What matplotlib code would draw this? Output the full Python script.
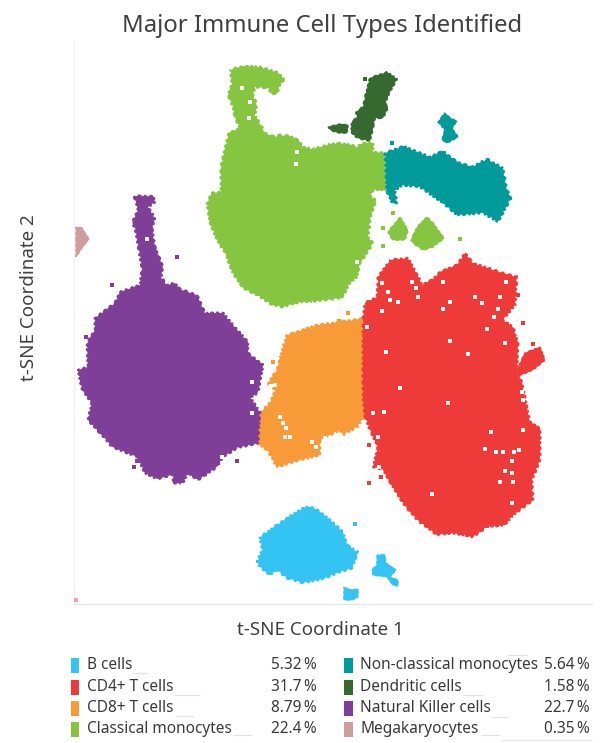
import matplotlib
matplotlib.use("Agg")
import matplotlib.pyplot as plt

plt.rcParams['font.family'] = ['Noto Sans', 'DejaVu Sans']

# -----------------------------------
# Cluster outlines
# -----------------------------------

classical = [(230,70),(243,66),(260,67),(277,72),(284,79),(280,85),(277,94),(271,93),(268,88),(255,87),
             (253,95),(257,105),(255,115),(261,125),(265,133),(275,137),(278,135),(290,136),(298,140),
             (303,147),(313,149),(323,146),(337,143),(347,144),(357,147),(363,143),(373,143),(373,152),
             (385,153),(387,190),(373,190),(370,197),(376,200),(372,213),(370,220),(368,237),(373,243),
             (367,253),(360,263),(357,277),(350,283),(342,298),(317,301),(300,302),(283,307),(272,305),
             (257,295),(243,288),(233,273),(225,253),(217,240),(210,223),(207,203),(212,193),(221,192),
             (221,167),(225,148),(229,133),(240,128),(235,118),(233,107),(228,95),(232,83)]
classical_a = [(388,232),(400,217),(408,230),(405,240),(393,240)]
classical_b = [(411,240),(417,227),(427,217),(433,223),(444,238),(433,247),(423,250),(413,243)]
dendritic = [(370,78),(387,72),(397,79),(390,92),(385,103),(388,108),(383,118),(375,118),(373,128),
             (370,141),(357,138),(351,132),(352,121),(357,118),(356,112),(363,107),(366,93)]
dendritic_a = [(328,127),(340,124),(348,125),(347,133),(340,133),(332,131)]
non_classical = [(385,153),(403,146),(413,150),(430,157),(443,151),(457,162),(472,167),(487,159),(503,168),
                 (507,190),(511,198),(498,222),(483,213),(457,215),(443,203),(420,187),(403,185),(395,190),
                 (397,203),(392,203),(387,192)]
non_classical_a = [(445,113),(450,118),(457,121),(452,128),(458,137),(447,143),(442,140),(445,130),(438,122)]
nk = [(134,196),(153,196),(155,202),(148,207),(155,218),(152,228),(155,247),(163,267),(161,277),(167,285),
      (175,283),(180,289),(197,295),(205,313),(223,313),(240,333),(248,342),(248,353),(263,365),(258,393),
      (250,397),(260,412),(258,443),(237,448),(223,457),(217,467),(198,480),(188,473),(183,483),(173,483),
      (173,475),(157,479),(145,473),(137,457),(112,447),(100,433),(88,420),(92,403),(82,390),(78,370),
      (88,367),(87,343),(95,330),(95,318),(115,303),(120,292),(140,285),(142,268),(135,228),(132,223),(138,210)]
mega = [(76,227),(82,228),(89,239),(82,248),(76,257)]
cd8 = [(287,335),(317,325),(333,323),(365,318),(366,413),(357,427),(343,435),(340,430),(320,440),(320,455),
       (300,460),(277,467),(267,450),(257,443),(260,413),(270,403),(275,390),(268,383),(277,370),(283,347)]
cd4 = [(390,260),(408,258),(420,280),(422,285),(432,280),(440,272),(457,265),(465,253),(473,263),(488,268),
       (503,273),(517,277),(515,305),(503,320),(513,327),(518,343),(517,370),(522,383),(527,407),(530,422),
       (540,428),(540,460),(532,480),(533,500),(513,515),(505,525),(487,527),(473,537),(453,533),(437,535),
       (417,520),(403,503),(390,482),(383,470),(373,467),(378,447),(370,430),(365,417),(363,397),(363,320),
       (365,303),(377,297),(378,277)]
cd4_a = [(525,353),(540,347),(545,360),(533,370),(520,375),(517,370)]
b_cells = [(307,506),(318,510),(330,520),(343,532),(347,545),(358,552),(352,568),(337,573),(323,579),(303,583),
           (287,578),(277,570),(270,575),(260,567),(257,562),(262,550),(260,537),(277,525),(287,518)]
b_cells_a = [(377,555),(385,555),(386,563),(396,570),(390,577),(398,580),(398,586),(393,585),(387,577),
             (373,575),(372,570),(377,565)]
b_cells_b = [(344,587),(350,590),(358,589),(358,597),(352,600),(344,600)]

# stray points
classical_pts = [(393,213),(383,228),(383,246),(460,239)]
dendritic_pts = [(365,79)]
non_classical_pts = [(392,143)]
nk_pts = [(177,257),(112,285),(86,337),(237,461),(134,467),(137,461)]
cd8_pts = [(348,313),(339,321),(273,362)]
cd4_pts = [(518,295),(523,323),(533,344),(369,483),(381,477),(369,445)]
b_pts = [(355,524)]
mega_pts = [(76,600)]

# white gaps inside the clusters
gaps = [(382,283),(418,297),(475,297),(443,282),(390,300),(398,302),(382,311),(450,302),(443,309),(482,303),
        (500,297),(506,282),(498,309),(494,317),(487,329),(450,341),(505,343),(468,354),(386,352),(400,388),
        (448,403),(384,412),(373,413),(367,327),(522,392),(523,400),(491,432),(523,430),(378,437),(485,449),
        (496,452),(503,452),(514,452),(519,450),(512,461),(505,471),(512,473),(500,482),(513,482),(432,494),
        (512,503),(379,467),(416,288),(412,282),(388,292),
        (297,152),(296,164),(357,262),(242,88),(250,102),(249,118),
        (147,239),(252,382),(252,413),(222,457),
        (280,417),(283,423),(286,428),(285,437),(290,437),(275,385),(271,386),(312,442),(316,447),(325,438)]

# -----------------------------------
# Legend
# -----------------------------------

col1_names = ['B cells', 'CD4+ T cells', 'CD8+ T cells', 'Classical monocytes']
col1_pcts = ['5.32\u2009%', '31.7\u2009%', '8.79\u2009%', '22.4\u2009%']
col1_colors = ['#33c4f3', '#ef3a3a', '#f89a38', '#86c540']
col2_names = ['Non-classical monocytes', 'Dendritic cells', 'Natural Killer cells', 'Megakaryocytes']
col2_pcts = ['5.64\u2009%', '1.58\u2009%', '22.7\u2009%', '0.35\u2009%']
col2_colors = ['#009a9a', '#36692f', '#7f3f98', '#cf9c9c']
row_y = [665, 687, 708, 729]

# faint leftover rules next to the legend text
rule_x0 = [132, 175, 175, 233, 507, 463, 492, 481, 502]
rule_x1 = [148, 200, 194, 252, 527, 483, 509, 500, 592]
rule_y = [673, 695, 716, 735, 655, 695, 717, 735, 740]

fig = plt.figure(figsize=(6.03, 7.43), dpi=100)
ax = fig.add_axes([74/603, (743-604)/743, (592-74)/603, (604-40)/743])
ax.set_xlim(74, 592)
ax.set_ylim(604, 40)
ax.set_xticks([])
ax.set_yticks([])
for s in ['top', 'right']:
    ax.spines[s].set_visible(False)
ax.spines['left'].set_color('#f0f0f0')
ax.spines['bottom'].set_color('#e4e4e4')


def blob(points, color, z=2, scale=1.1):
    xs, ys = zip(*points)
    patch = ax.fill(xs, ys, color=color, lw=0.8, zorder=z)[0]
    patch.set_sketch_params(scale=scale, length=6, randomness=2)


def dots(points, color, size=11, z=3):
    xs, ys = zip(*points)
    ax.scatter(xs, ys, s=size, color=color, marker='s', linewidths=0, zorder=z)


blue, red, orange, green = col1_colors
teal, dark, purple, pink = col2_colors

blob(classical, green)
for o in [classical_a, classical_b]:
    blob(o, green, scale=0.5)
blob(dendritic, dark, scale=0.7)
blob(dendritic_a, dark, scale=0.4)
blob(non_classical, teal, 3)
blob(non_classical_a, teal, 3, scale=0.4)
blob(cd8, orange)
blob(nk, purple, 3)
blob(cd4, red, 3)
blob(cd4_a, red, 3, scale=0.5)
blob(mega, pink, scale=0.3)
blob(b_cells, blue)
blob(b_cells_a, blue, scale=0.3)
blob(b_cells_b, blue, scale=0.3)

dots(classical_pts, green)
dots(dendritic_pts, dark)
dots(non_classical_pts, teal)
dots(nk_pts, purple)
dots(cd8_pts, orange)
dots(cd4_pts, red)
dots(b_pts, blue)
dots(mega_pts, '#f5a58c', size=8)
dots(gaps, 'white', size=5, z=4)

ax.set_title('Major Immune Cell Types Identified', fontsize=17.2, color='#404040', x=0.479, y=1.0, pad=6)
ax.set_xlabel('t-SNE Coordinate 1', fontsize=13.5, color='#404040', labelpad=12, x=0.476)
ax.set_ylabel('t-SNE Coordinate 2', fontsize=13.5, color='#404040', labelpad=26, y=0.5426)

# legend is laid out in picture pixels
leg = fig.add_axes([0, 0, 1, 1])
leg.set_xlim(0, 603)
leg.set_ylim(743, 0)
leg.axis('off')
leg.patch.set_alpha(0)

for names, pcts, colors, x0, right in [(col1_names, col1_pcts, col1_colors, 70.5, 317),
                                       (col2_names, col2_pcts, col2_colors, 344, 590)]:
    for name, pct, c, y in zip(names, pcts, colors, row_y):
        leg.add_patch(plt.Rectangle((x0, y-7.5), 8.5, 15, color=c, lw=0))
        leg.text(x0+16.5, y, name, fontsize=11.1, va='center', color='#3a3a3a')
        leg.text(right, y, pct, fontsize=11.1, va='center', ha='right', color='#3a3a3a')

leg.hlines(rule_y, rule_x0, rule_x1, color='#e2e2e2', lw=0.8)

fig.savefig('out.png', dpi=100)
